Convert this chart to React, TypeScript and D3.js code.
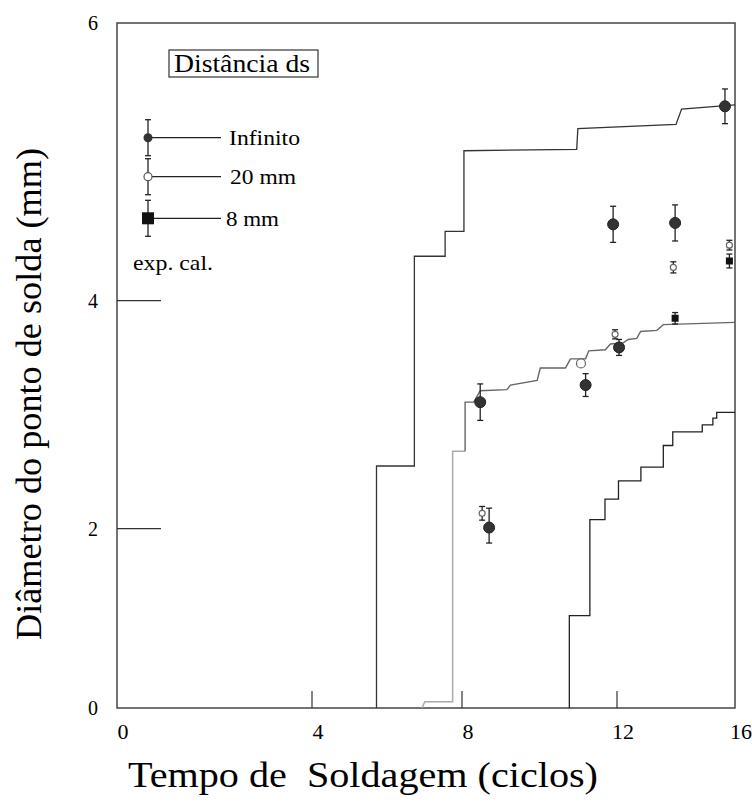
import React, { useEffect, useRef } from 'react';
import * as d3 from 'd3';

// axis ticks (the scan is not linear, so the scales are piecewise)
const xTickValues = [0, 4, 8, 12, 16];
const xTickPx = [117, 312, 462, 617, 735];
const yTickValues = [0, 2, 4, 6];
const yTickPx = [708, 528.7, 300.7, 23];
const xTickMarks = [4, 8, 12];
const yTickMarks = [2, 4];

// calculated curves
const infCalcX = [5.72, 5.72, 6.73, 6.73, 7.55, 7.55, 8.05, 8.05, 10.96, 10.99, 14.0, 14.19, 16];
const infCalcY = [0, 2.55, 2.55, 4.32, 4.32, 4.5, 4.5, 5.08, 5.09, 5.24, 5.27, 5.38, 5.41];

const mm20CalcX = [6.93, 7.01, 7.75, 7.75, 8.08, 8.08, 8.3, 8.47, 9.16, 9.25, 9.94, 10.02, 10.67, 10.8, 11.19, 11.27, 11.7, 11.83, 12.21, 12.38, 12.67, 12.8, 13.35, 13.57, 16];
const mm20CalcY = [0, 0.07, 0.07, 2.68, 2.68, 3.11, 3.11, 3.21, 3.22, 3.26, 3.3, 3.41, 3.41, 3.49, 3.49, 3.56, 3.57, 3.62, 3.63, 3.66, 3.67, 3.73, 3.74, 3.79, 3.81];

const mm8CalcX = [10.77, 10.77, 11.3, 11.69, 12.05, 12.81, 13.57, 13.89, 14.89, 15.25, 15.38, 16];
const mm8CalcY = [0, 1.03, 2.08, 2.26, 2.42, 2.54, 2.73, 2.85, 2.91, 2.97, 3.02, 3.02];

// experimental points
const infExpX = [8.47, 8.7, 11.19, 11.9, 12.07, 13.97, 15.66];
const infExpY = [3.11, 2.01, 3.26, 4.55, 3.59, 4.56, 5.4];
const infExpErr = [0.16, 0.17, 0.1, 0.13, 0.07, 0.13, 0.125];

const mm20ExpX = [8.52, 11.07, 11.95, 13.91, 15.81];
const mm20ExpY = [2.135, 3.45, 3.705, 4.24, 4.4];
const mm20ExpErr = [0.06, 0, 0.04, 0.04, 0.035];

const mm8ExpX = [13.97, 15.81];
const mm8ExpY = [3.846, 4.286];
const mm8ExpErr = [0.05, 0.05];

const legendLabels = ['Infinito', ' 20 mm', '8 mm'];

const FONT = '"Liberation Serif", "Times New Roman", serif';

function App() {
  const svgRef = useRef<SVGSVGElement>(null);

  useEffect(() => {
    const svg = d3.select(svgRef.current);
    svg.selectAll('*').remove();

    const x = d3.scaleLinear().domain(xTickValues).range(xTickPx);
    const y = d3.scaleLinear().domain(yTickValues).range(yTickPx);

    const g = svg.append('g').style('font-family', FONT);

    // frame
    g.append('rect')
      .attr('x', x(0))
      .attr('y', y(6))
      .attr('width', x(16) - x(0))
      .attr('height', y(0) - y(6))
      .attr('fill', 'none')
      .attr('stroke', '#444')
      .attr('stroke-width', 1.5);

    // ticks
    g.selectAll('.ytick')
      .data(yTickMarks)
      .enter()
      .append('line')
      .attr('x1', x(0))
      .attr('x2', x(0) + 44)
      .attr('y1', d => y(d))
      .attr('y2', d => y(d))
      .attr('stroke', '#333')
      .attr('stroke-width', 1.2);

    g.selectAll('.xtick')
      .data(xTickMarks)
      .enter()
      .append('line')
      .attr('x1', d => x(d))
      .attr('x2', d => x(d))
      .attr('y1', y(0))
      .attr('y2', y(0) - 17)
      .attr('stroke', '#333')
      .attr('stroke-width', 1.2);

    g.selectAll('.ylab')
      .data(yTickValues)
      .enter()
      .append('text')
      .attr('x', 98)
      .attr('y', d => y(d))
      .attr('dy', '.35em')
      .attr('text-anchor', 'end')
      .style('font-size', '20px')
      .text(d => d);

    g.selectAll('.xlab')
      .data(xTickValues)
      .enter()
      .append('text')
      .attr('x', d => x(d) + 6)
      .attr('y', 739)
      .attr('text-anchor', 'middle')
      .style('font-size', '22px')
      .text(d => d);

    // axis titles (the original is stretched sideways)
    g.append('text')
      .attr('x', 128)
      .attr('y', 787)
      .attr('textLength', 470)
      .attr('lengthAdjust', 'spacingAndGlyphs')
      .style('font-size', '35px')
      .style('white-space', 'pre')
      .text('Tempo de  Soldagem (ciclos)');

    g.append('text')
      .attr('transform', 'translate(41,394) rotate(-90)')
      .attr('text-anchor', 'middle')
      .attr('textLength', 492)
      .attr('lengthAdjust', 'spacingAndGlyphs')
      .style('font-size', '36px')
      .text('Diâmetro do ponto de solda (mm)');

    // calculated curves
    const line = d3.line<[number, number]>()
      .x(d => x(d[0]))
      .y(d => y(d[1]));

    g.append('path')
      .attr('d', line(infCalcX.map((v, i) => [v, infCalcY[i]])))
      .attr('fill', 'none')
      .attr('stroke', '#333')
      .attr('stroke-width', 1.3);

    const mm20Pts = mm20CalcX.map((v, i) => [v, mm20CalcY[i]] as [number, number]);
    g.append('path')
      .attr('d', line(mm20Pts.slice(0, 5)))
      .attr('fill', 'none')
      .attr('stroke', '#aaa')
      .attr('stroke-width', 1.5);
    g.append('path')
      .attr('d', line(mm20Pts.slice(4)))
      .attr('fill', 'none')
      .attr('stroke', '#666')
      .attr('stroke-width', 1.4);

    g.append('path')
      .attr('d', line.curve(d3.curveStepAfter)(mm8CalcX.map((v, i) => [v, mm8CalcY[i]])))
      .attr('fill', 'none')
      .attr('stroke', '#222')
      .attr('stroke-width', 1.3);

    // error bars
    const errorBars = (xs: number[], ys: number[], errs: number[]) => {
      xs.forEach((xv, i) => {
        if (!errs[i]) return;
        const cx = x(xv);
        const top = y(ys[i] + errs[i]);
        const bot = y(ys[i] - errs[i]);
        const eb = g.append('g').attr('stroke', '#222').attr('stroke-width', 1.3);
        eb.append('line').attr('x1', cx).attr('x2', cx).attr('y1', top).attr('y2', bot);
        eb.append('line').attr('x1', cx - 3).attr('x2', cx + 3).attr('y1', top).attr('y2', top);
        eb.append('line').attr('x1', cx - 3).attr('x2', cx + 3).attr('y1', bot).attr('y2', bot);
      });
    };

    errorBars(infExpX, infExpY, infExpErr);
    errorBars(mm20ExpX, mm20ExpY, mm20ExpErr);
    errorBars(mm8ExpX, mm8ExpY, mm8ExpErr);

    g.selectAll('.inf')
      .data(infExpX)
      .enter()
      .append('circle')
      .attr('cx', d => x(d))
      .attr('cy', (d, i) => y(infExpY[i]))
      .attr('r', 5.5)
      .attr('fill', '#333')
      .attr('stroke', '#222');

    g.selectAll('.mm20')
      .data(mm20ExpX)
      .enter()
      .append('circle')
      .attr('cx', d => x(d))
      .attr('cy', (d, i) => y(mm20ExpY[i]))
      .attr('r', (d, i) => (i === 1 ? 4.5 : 3))
      .attr('fill', '#fff')
      .attr('stroke', '#666')
      .attr('stroke-width', 1.2);

    g.selectAll('.mm8')
      .data(mm8ExpX)
      .enter()
      .append('rect')
      .attr('x', d => x(d) - 3.5)
      .attr('y', (d, i) => y(mm8ExpY[i]) - 3.5)
      .attr('width', 7)
      .attr('height', 7)
      .attr('fill', '#111');

    // legend
    g.append('rect')
      .attr('x', 169)
      .attr('y', 50)
      .attr('width', 149)
      .attr('height', 27)
      .attr('fill', 'none')
      .attr('stroke', '#333')
      .attr('stroke-width', 1.2);

    g.append('text')
      .attr('x', 174)
      .attr('y', 72)
      .attr('textLength', 136)
      .attr('lengthAdjust', 'spacingAndGlyphs')
      .style('font-size', '25px')
      .text('Distância ds');

    const legY = [137.7, 176.7, 218.3];
    const legTextX = [229, 230, 226];
    const legTextW = [71, 66, 53];
    legendLabels.forEach((label, i) => {
      const ly = legY[i];
      const lg = g.append('g');
      lg.append('line')
        .attr('x1', 148).attr('x2', 148)
        .attr('y1', ly - 18).attr('y2', ly + 18)
        .attr('stroke', '#222').attr('stroke-width', 1.3);
      lg.append('line')
        .attr('x1', 145).attr('x2', 151)
        .attr('y1', ly - 18).attr('y2', ly - 18)
        .attr('stroke', '#222').attr('stroke-width', 1.3);
      lg.append('line')
        .attr('x1', 145).attr('x2', 151)
        .attr('y1', ly + 18).attr('y2', ly + 18)
        .attr('stroke', '#222').attr('stroke-width', 1.3);
      lg.append('line')
        .attr('x1', 148).attr('x2', 221)
        .attr('y1', ly).attr('y2', ly)
        .attr('stroke', '#222').attr('stroke-width', 1.3);
      if (i === 0) {
        lg.append('circle').attr('cx', 148).attr('cy', ly).attr('r', 4.5).attr('fill', '#333');
      } else if (i === 1) {
        lg.append('circle').attr('cx', 148).attr('cy', ly).attr('r', 4)
          .attr('fill', '#fff').attr('stroke', '#555').attr('stroke-width', 1.2);
      } else {
        lg.append('rect').attr('x', 142).attr('y', ly - 6).attr('width', 12).attr('height', 12).attr('fill', '#111');
      }
      lg.append('text')
        .attr('x', legTextX[i])
        .attr('y', ly)
        .attr('dy', '.35em')
        .attr('textLength', legTextW[i])
        .attr('lengthAdjust', 'spacingAndGlyphs')
        .style('font-size', '22px')
        .text(label.trim());
    });

    g.append('text')
      .attr('x', 133)
      .attr('y', 270)
      .attr('textLength', 80)
      .attr('lengthAdjust', 'spacingAndGlyphs')
      .style('font-size', '21px')
      .text('exp. cal.');
  }, []);

  return (
    <svg
      ref={svgRef}
      width={752}
      height={807}
      style={{ position: 'absolute', left: 0, top: 0, background: '#fff' }}
    ></svg>
  );
}

export default App;
